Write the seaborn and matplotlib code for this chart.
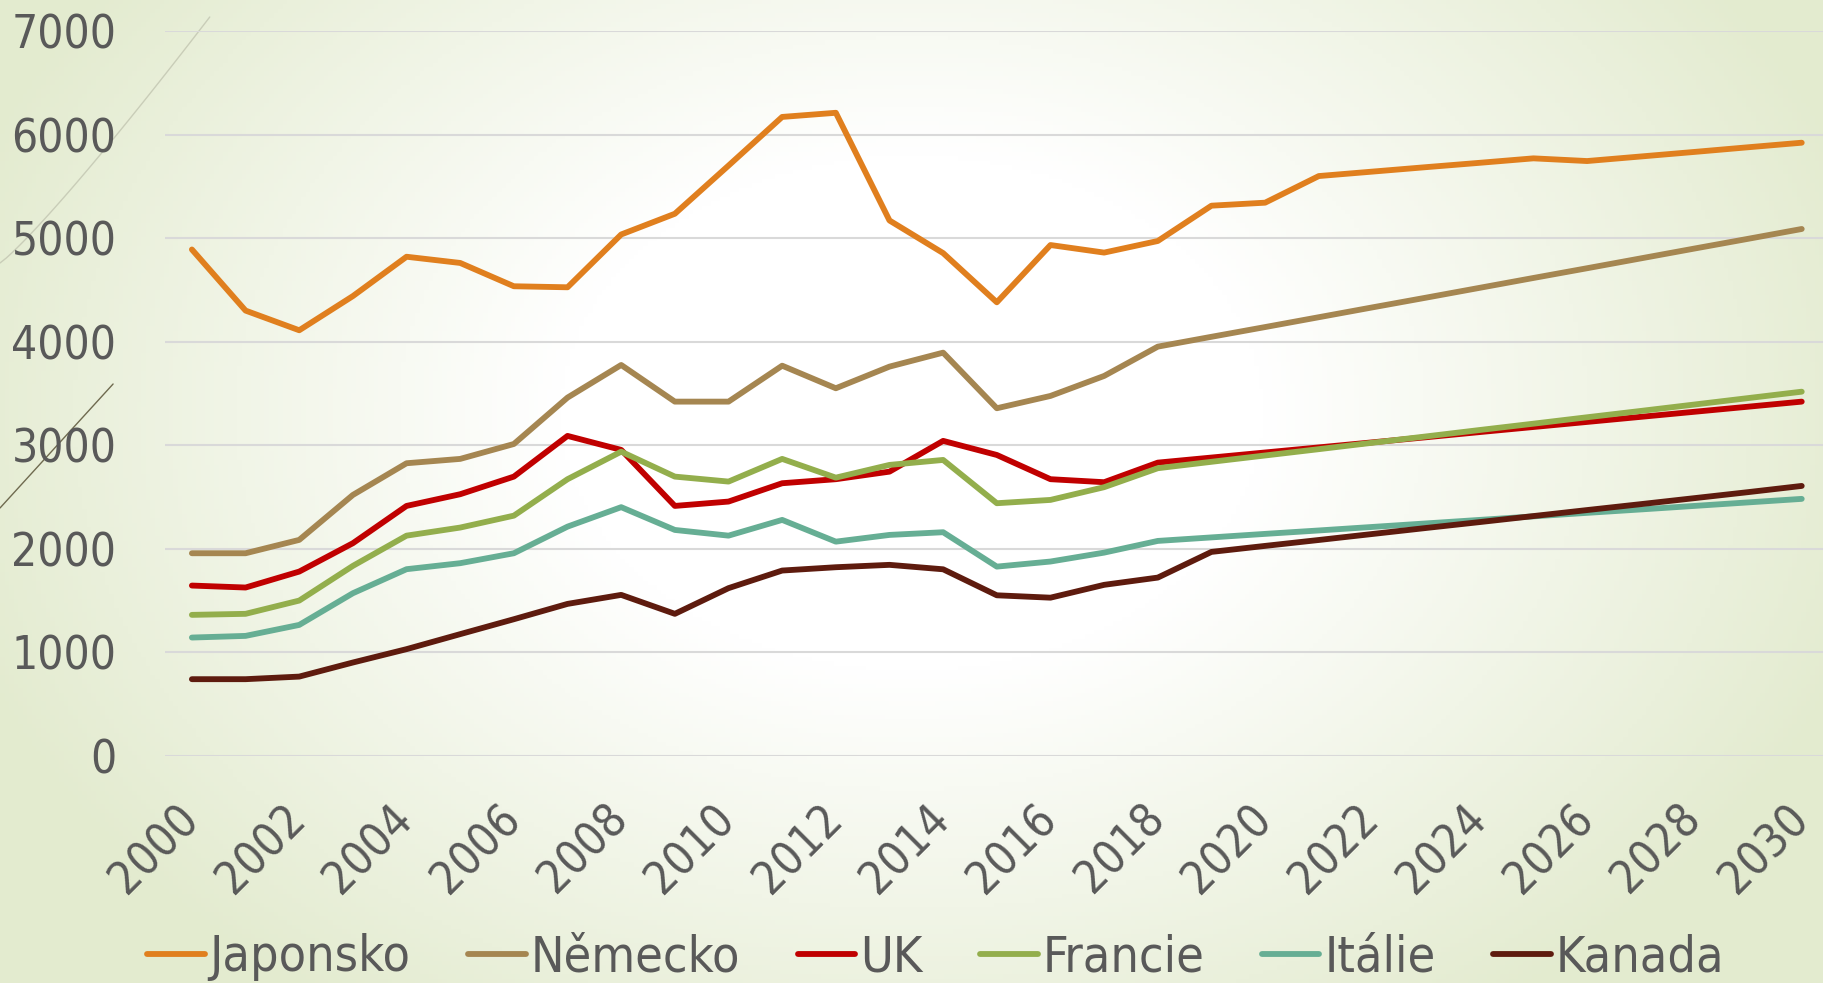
import numpy as np
import pandas as pd
import matplotlib
matplotlib.use("Agg")
import matplotlib.pyplot as plt
import matplotlib.transforms as mtransforms
import seaborn as sns

years = list(range(2000, 2031))

japonsko = [4890, 4300, 4110, 4440, 4820, 4760, 4535, 4525, 5035, 5235, 5700, 6170, 6210,
            5170, 4855, 4380, 4933, 4860, 4972, 5313, 5342, 5599, 5642, 5685, 5727, 5770,
            5744, 5788, 5832, 5877, 5921]
nemecko = [1957, 1957, 2086, 2520, 2826, 2868, 3012, 3460, 3775, 3421, 3421, 3768, 3550,
           3759, 3894, 3357, 3476, 3669, 3952, 4047, 4141, 4236, 4331, 4425, 4520, 4615,
           4709, 4804, 4899, 4993, 5088]
uk = [1645, 1626, 1780, 2054, 2414, 2527, 2697, 3090, 2955, 2414, 2456, 2633, 2672,
      2745, 3042, 2906, 2672, 2643, 2832, 2881, 2930, 2979, 3028, 3077, 3127, 3176,
      3225, 3274, 3323, 3372, 3421]
francie = [1362, 1372, 1500, 1835, 2127, 2205, 2320, 2672, 2938, 2697, 2649, 2868, 2687,
           2810, 2858, 2440, 2472, 2595, 2778, 2840, 2901, 2962, 3024, 3085, 3147, 3208,
           3270, 3331, 3393, 3455, 3517]
italie = [1143, 1159, 1265, 1571, 1803, 1861, 1957, 2214, 2402, 2182, 2127, 2279, 2069,
          2134, 2160, 1828, 1877, 1963, 2076, 2110, 2144, 2177, 2211, 2245, 2279, 2313,
          2347, 2380, 2414, 2448, 2482]
kanada = [741, 741, 766, 902, 1031, 1176, 1320, 1468, 1555, 1372, 1620, 1790, 1822,
          1845, 1802, 1551, 1528, 1652, 1722, 1970, 2028, 2085, 2143, 2201, 2258, 2316,
          2374, 2431, 2489, 2547, 2607]

series = {"Japonsko": japonsko, "Německo": nemecko, "UK": uk,
          "Francie": francie, "Itálie": italie, "Kanada": kanada}
colors = ["#E07F1E", "#A58651", "#C00000", "#93AE4C", "#66AE94", "#5E1B0E"]

df = pd.DataFrame([(y, name, v) for name, vals in series.items() for y, v in zip(years, vals)],
                  columns=["Rok", "Země", "Hodnota"])

sns.set_theme(style="white")
plt.rcParams["font.family"] = ["DejaVu Sans"]
plt.rcParams["font.stretch"] = "condensed"
text_col = "#595959"

fig = plt.figure(figsize=(18.24, 9.83), dpi=100)

# background gradient (whitish centre, pale green edges)
bg = fig.add_axes([0, 0, 1, 1], zorder=-10)
gx, gy = np.meshgrid(np.linspace(0, 1, 400), np.linspace(0, 1, 220))
r = np.sqrt(((gx - 0.5) / 0.55) ** 2 + ((gy - 0.42) / 0.75) ** 2)
t = np.clip((r - 0.35) / 0.65, 0, 1)[..., None]
white = np.array([1.0, 1.0, 1.0])
green = np.array([0xE3, 0xEB, 0xCF]) / 255
bg.imshow(white * (1 - t) + green * t, extent=[0, 1, 0, 1], aspect="auto", origin="upper")
# decorative theme arcs
s = np.linspace(0, 1, 50)
bg.plot(0.115 * s ** 0.9, 1 - (263 - 246 * s) / 983, color="#c9cdb8", lw=1)
bg.plot(0.062 * s, 1 - (508 - 124 * s) / 983, color="#6f6a4f", lw=1)
bg.set_xlim(0, 1)
bg.set_ylim(0, 1)
bg.axis("off")

ax = fig.add_axes([0.0905, 0.231, 0.912, 0.7375])
ax.patch.set_alpha(0)
sns.lineplot(data=df, x="Rok", y="Hodnota", hue="Země", palette=colors, linewidth=4.2,
             ax=ax, legend=False, solid_capstyle="round")

ax.set_xlim(1999.5, 2030.5)
ax.set_ylim(0, 7000)
ax.set_yticks(range(0, 7001, 1000))
ax.set_xticks(years[::2])
ax.yaxis.grid(True, color="#d9d9d9", lw=1.5)
ax.xaxis.grid(False)
for sp in ax.spines.values():
    sp.set_visible(False)
ax.set_xlabel("")
ax.set_ylabel("")
ax.tick_params(axis="both", length=0, colors=text_col, labelsize=33)
ax.tick_params(axis="y", pad=35)
ax.tick_params(axis="x", pad=29)
shift = mtransforms.ScaledTranslation(-0.16, 0, fig.dpi_scale_trans)
for lab in ax.get_xticklabels():
    lab.set_rotation(45)
    lab.set_ha("right")
    lab.set_va("top")
    lab.set_rotation_mode("anchor")
    lab.set_transform(lab.get_transform() + shift)

handles = [plt.Line2D([], [], color=c, lw=4.2, solid_capstyle="round") for c in colors]
fig.legend(handles, list(series.keys()), loc="center", bbox_to_anchor=(0.513, 0.026),
           ncol=6, frameon=False, fontsize=36, labelcolor=text_col,
           handlelength=1.15, handletextpad=0.1, columnspacing=1.15)

fig.savefig("out.png", dpi=100)
